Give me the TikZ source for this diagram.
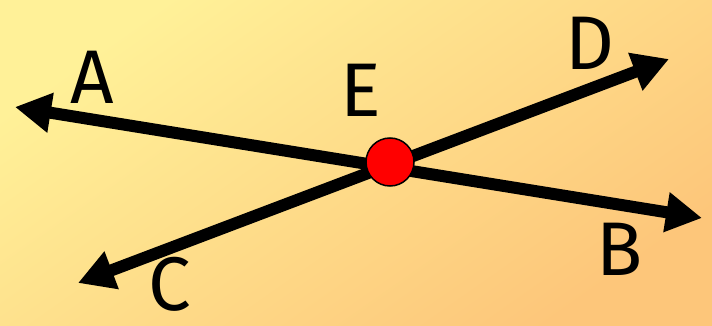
\documentclass[tikz,border=0pt]{standalone}
\usepackage{fontspec}
\setmainfont{Fira Sans}
\usetikzlibrary{arrows.meta}
\definecolor{bgtl}{RGB}{255,241,152}
\definecolor{bgbr}{RGB}{253,198,122}
\definecolor{ptred}{RGB}{255,0,0}
\tikzset{
  ray/.style={line width=12pt, {Triangle[length=36pt,width=38pt]}-{Triangle[length=36pt,width=38pt]}},
  lbl/.style={inner sep=0pt, font=\fontsize{76}{76}\selectfont, text=black},
  pt/.style={circle, draw=black, line width=1.5pt, fill=ptred, minimum size=48pt, inner sep=0pt}
}
\begin{document}
\begin{tikzpicture}[x=1pt,y=-1pt]
\useasboundingbox (0,0) rectangle (712,326);
\fill[top color=bgtl, bottom color=bgbr, shading angle=35] (0,0) rectangle (712,326);
\coordinate (Atip) at (15,107);
\coordinate (Btip) at (702,218);
\coordinate (Ctip) at (78,283);
\coordinate (Dtip) at (669,59);
\draw[ray] (Atip) -- (Btip);
\draw[ray] (Ctip) -- (Dtip);
\node[pt] (E) at (390,162) {};
\node[lbl] (A) at (92,77) {A};
\node[lbl] (B) at (620,249) {B};
\node[lbl] (C) at (170,284) {C};
\node[lbl] (D) at (590,43) {D};
\node[lbl] (Elbl) at (361,90) {E};
\end{tikzpicture}
\end{document}
